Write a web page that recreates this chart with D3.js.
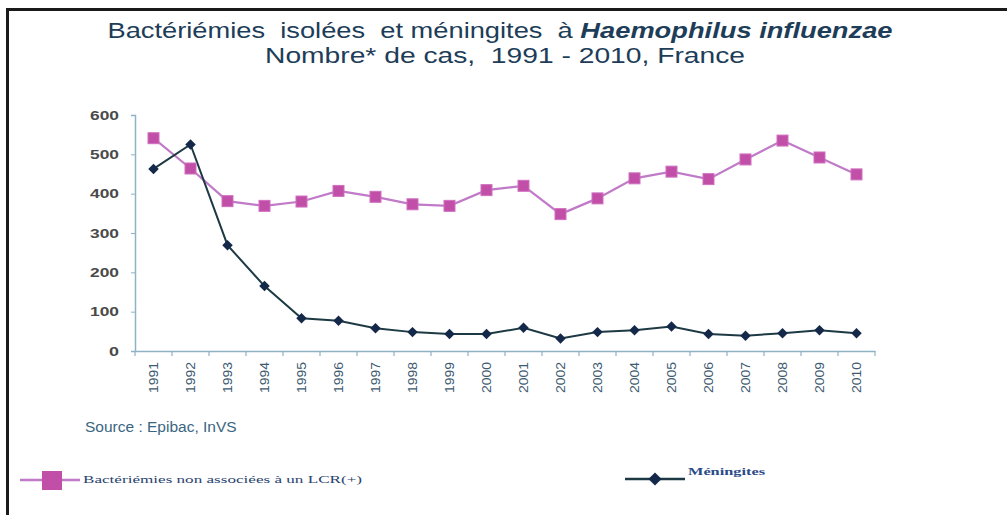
<!DOCTYPE html>
<html><head><meta charset="utf-8">
<script src="https://cdn.jsdelivr.net/npm/d3@7"></script>
<style>
body{margin:0;background:#fff;}
svg{display:block;}
</style></head>
<body>
<svg id="c" width="1007" height="515"></svg>
<script>
const years = ["1991","1992","1993","1994","1995","1996","1997","1998","1999","2000","2001","2002","2003","2004","2005","2006","2007","2008","2009","2010"];
const bacteriemies = [541,464,381,369,380,407,392,373,369,409,420,348,388,439,456,437,487,535,492,449];
const meningites = [463,525,269,165,83,77,58,48,43,43,59,32,48,53,62,43,39,45,53,45];
const yTicks = [0,100,200,300,400,500,600];
const titleLine1a = "Bactériémies  isolées  et méningites  à ";
const titleLine1b = "Haemophilus influenzae";
const titleLine2 = "Nombre* de cas,  1991 - 2010, France";
const sourceText = "Source : Epibac, InVS";
const legendLabels = ["Bactériémies non associées à un LCR(+)", "Méningites"];

const svg = d3.select("#c");
const pink = "#c14fa8", pinkLine = "#c07ac8", navy = "#14284a", navyLine = "#1d3a44";
const textBlue = "#1d3d58";

// frame lines
svg.append("rect").attr("x",6).attr("y",8).attr("width",1001).attr("height",3).attr("fill","#1a1a1a");
svg.append("rect").attr("x",6).attr("y",8).attr("width",3).attr("height",507).attr("fill","#1a1a1a");

// title
const t1 = svg.append("text").attr("x",500).attr("y",38).attr("text-anchor","middle")
  .attr("font-family","Liberation Sans, Arial, sans-serif").attr("font-size",21.5).attr("fill",textBlue)
  .style("white-space","pre").attr("textLength",785).attr("lengthAdjust","spacingAndGlyphs");
t1.append("tspan").text(titleLine1a);
t1.append("tspan").attr("font-weight","bold").attr("font-style","italic").text(titleLine1b);
svg.append("text").attr("x",505).attr("y",63).attr("text-anchor","middle")
  .attr("font-family","Liberation Sans, Arial, sans-serif").attr("font-size",21.5).attr("fill",textBlue)
  .style("white-space","pre").attr("textLength",480).attr("lengthAdjust","spacingAndGlyphs").text(titleLine2);

// scales
const x = d3.scaleBand().domain(years).range([135,875]).padding(0);
const y = d3.scaleLinear().domain([0,600]).range([351,115]);
const cx = d => x(d) + x.bandwidth()/2;
const axisColor = "#8fb3c4";

// y axis
const ya = svg.append("g").attr("transform","translate(135,0)")
  .call(d3.axisLeft(y).tickValues(yTicks).tickSize(4).tickPadding(12));
ya.select(".domain").attr("stroke",axisColor).attr("stroke-width",1.5);
ya.selectAll(".tick line").attr("stroke",axisColor);
ya.selectAll(".tick text").attr("font-family","Liberation Sans, Arial, sans-serif")
  .attr("font-size",13.5).attr("fill","#4a4a4a").attr("font-weight","bold")
  .attr("textLength",d => d === 0 ? 10 : 29).attr("lengthAdjust","spacingAndGlyphs");

// x axis
const xa = svg.append("g").attr("transform","translate(0,351)")
  .call(d3.axisBottom(x).tickSize(0).tickPadding(0));
xa.select(".domain").attr("stroke",axisColor).attr("stroke-width",1.5);
xa.selectAll(".tick text").attr("transform","rotate(-90)").attr("text-anchor","end")
  .attr("x",-11).attr("y",0).attr("dy","0.35em")
  .attr("font-family","Liberation Sans, Arial, sans-serif").attr("font-size",13).attr("fill","#3d5a70")
  .attr("textLength",31).attr("lengthAdjust","spacingAndGlyphs");
const bounds = years.map(d => x(d)).concat([x.range()[1]]);
xa.selectAll(".btick").data(bounds).enter().append("line").attr("class","btick")
  .attr("x1",d=>d).attr("x2",d=>d).attr("y1",0).attr("y2",5).attr("stroke",axisColor).attr("stroke-width",1.2);

// lines
const line = d3.line().x((d,i)=>cx(years[i])).y(d=>y(d));
svg.append("path").datum(bacteriemies).attr("d",line).attr("fill","none").attr("stroke",pinkLine).attr("stroke-width",2.2);
svg.append("path").datum(meningites).attr("d",line).attr("fill","none").attr("stroke",navyLine).attr("stroke-width",2);

// markers
const sq = 11;
svg.selectAll(".sq").data(bacteriemies).enter().append("rect").attr("class","sq")
  .attr("x",(d,i)=>cx(years[i])-sq/2).attr("y",d=>y(d)-sq/2).attr("width",sq).attr("height",sq)
  .attr("fill",pink).attr("stroke","#d070c0").attr("stroke-width",1);
const dia = d3.symbol().type(d3.symbolDiamond2).size(70);
svg.selectAll(".dm").data(meningites).enter().append("path").attr("class","dm")
  .attr("transform",(d,i)=>`translate(${cx(years[i])},${y(d)})`).attr("d",dia).attr("fill",navy);

// source
svg.append("text").attr("x",85).attr("y",432).attr("font-family","Liberation Sans, Arial, sans-serif")
  .attr("font-size",15.5).attr("fill","#3a6680").text(sourceText);

// legend
svg.append("line").attr("x1",20).attr("x2",80).attr("y1",480).attr("y2",480).attr("stroke",pinkLine).attr("stroke-width",2.5);
svg.append("rect").attr("x",42).attr("y",471).attr("width",20).attr("height",19).attr("fill",pink);
svg.append("text").attr("x",83).attr("y",483).attr("font-family","Liberation Serif, Times New Roman, serif")
  .attr("font-size",11).attr("fill","#2a4470").attr("textLength",279).attr("lengthAdjust","spacingAndGlyphs")
  .text(legendLabels[0]);

svg.append("line").attr("x1",625).attr("x2",685).attr("y1",479).attr("y2",479).attr("stroke",navyLine).attr("stroke-width",2.5);
svg.append("path").attr("transform","translate(655,479)").attr("d",d3.symbol().type(d3.symbolDiamond2).size(110)).attr("fill",navy);
svg.append("text").attr("x",688).attr("y",475).attr("font-family","Liberation Serif, Times New Roman, serif")
  .attr("font-size",11).attr("font-weight","bold").attr("fill","#2a4a88").attr("textLength",77).attr("lengthAdjust","spacingAndGlyphs")
  .text(legendLabels[1]);
</script>
</body></html>
